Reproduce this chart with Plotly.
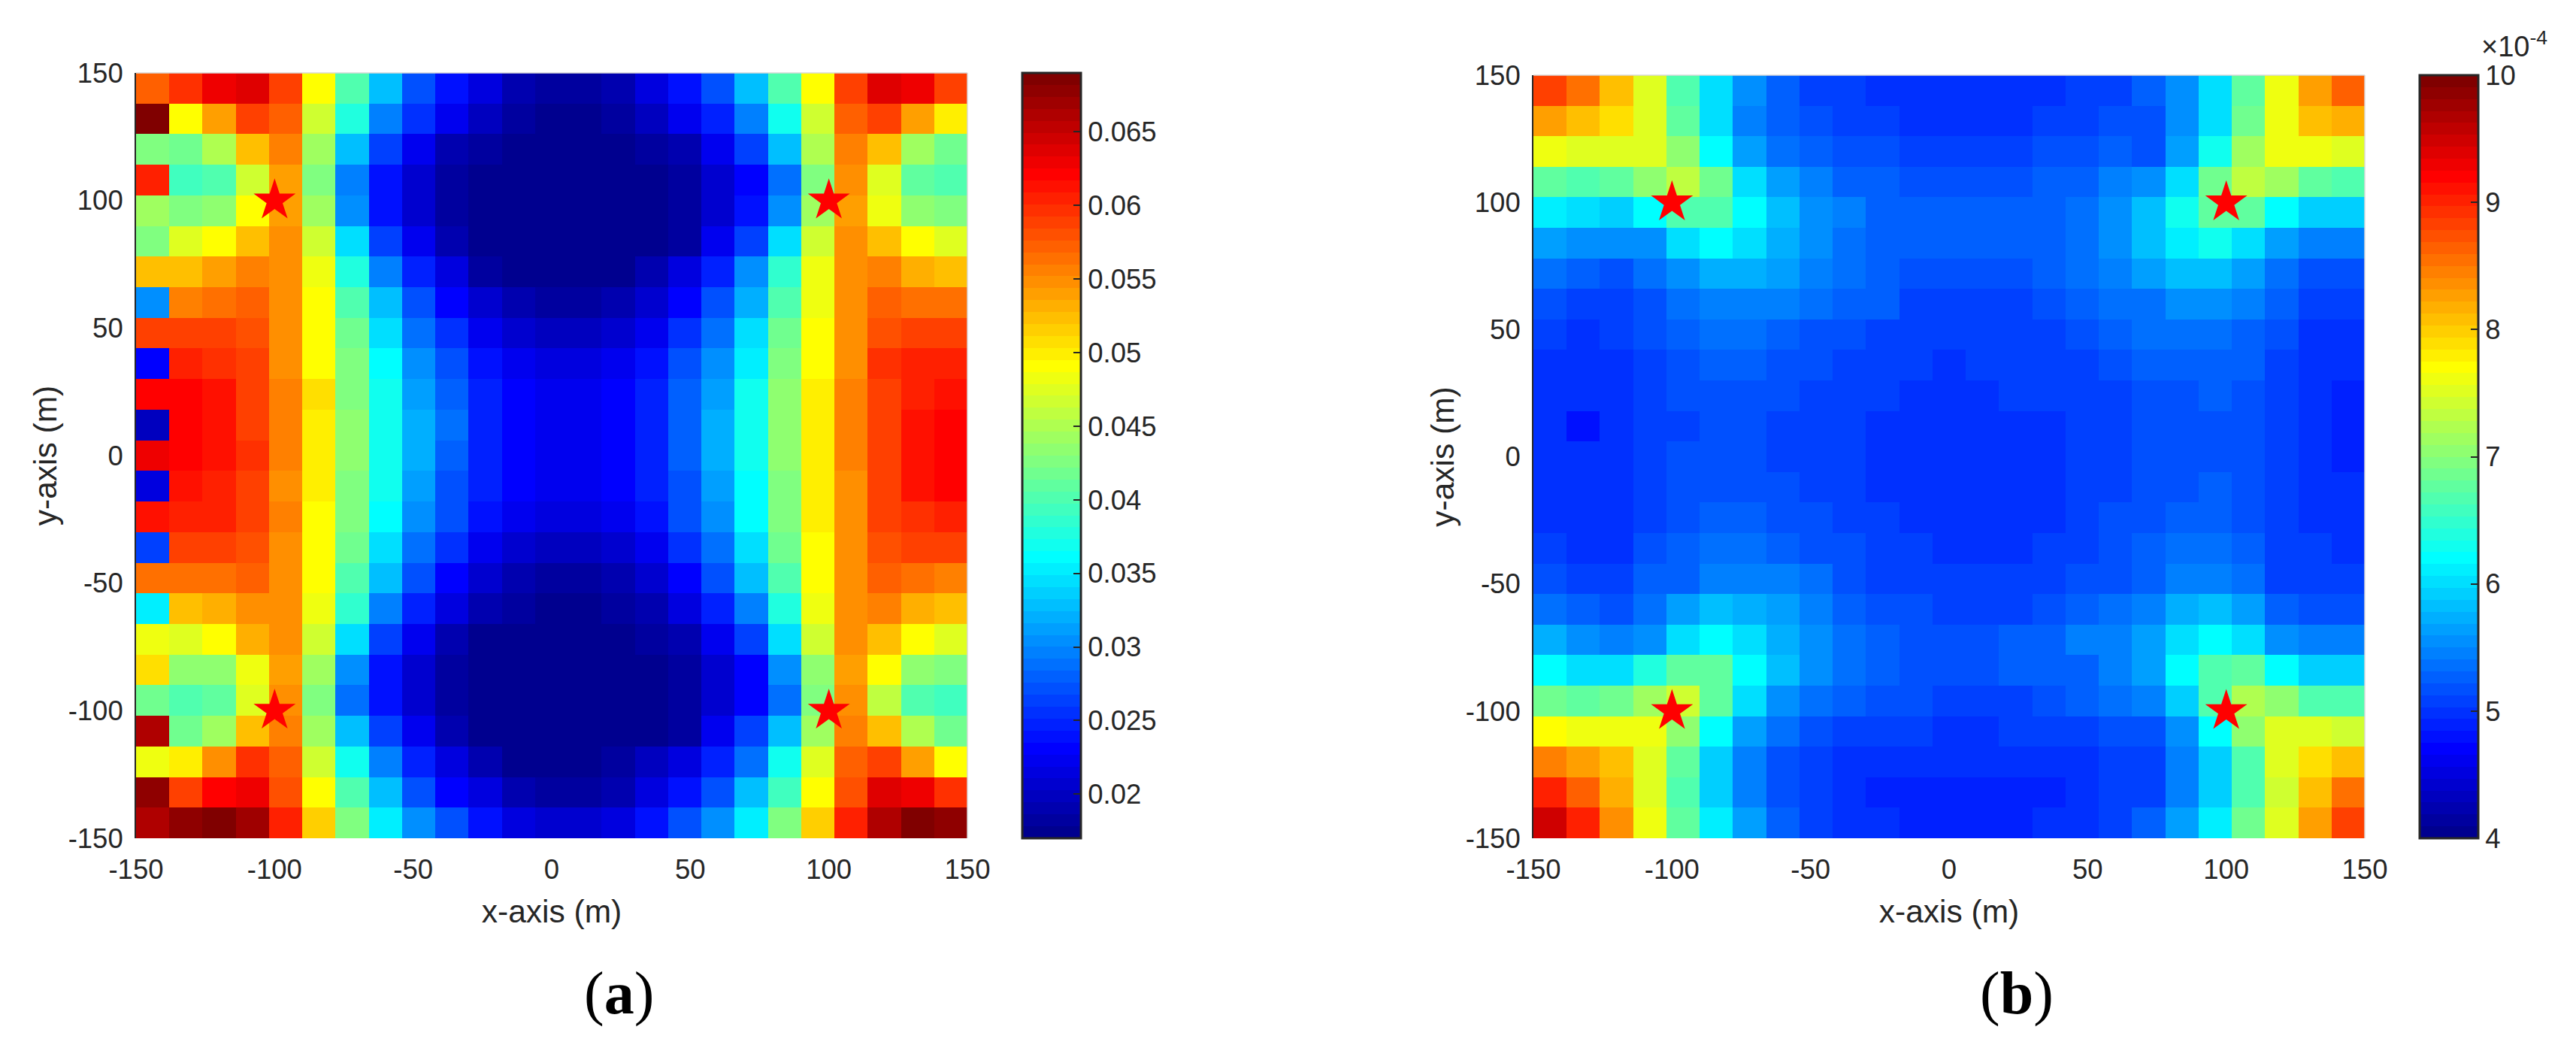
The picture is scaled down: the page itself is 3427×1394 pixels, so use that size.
import numpy as np
import plotly.graph_objects as go

W, H = 3427, 1394
PAGE = 8                       # the page's own margin around the figure
FW, FH = W - 2 * PAGE, H - 2 * PAGE

def fx(px):
    return (px - PAGE) / FW

def fy(py):
    return 1 - (py - PAGE) / FH

# Cell centres (m)
x_cells = [-144, -132, -120, -108, -96, -84, -72, -60, -48, -36, -24, -12, 0,
           12, 24, 36, 48, 60, 72, 84, 96, 108, 120, 132, 144]
y_cells = x_cells[::-1]

# Values, as position on the colour bar (0 bottom, 1 top)
read_a = [
 [.78,.83,.89,.905,.81,.625,.45,.31,.20,.14,.095,.05,.03,.03,.05,.095,.14,.20,.31,.45,.625,.81,.905,.89,.81],
 [1.0,.625,.72,.81,.78,.58,.40,.25,.17,.11,.06,.03,.016,.016,.03,.06,.11,.16,.25,.39,.58,.78,.81,.72,.64],
 [.50,.485,.55,.69,.75,.53,.31,.19,.11,.05,.03,0,0,0,.016,.03,.05,.11,.19,.31,.55,.75,.69,.53,.485],
 [.845,.44,.45,.58,.72,.50,.25,.14,.08,.03,.016,0,0,0,0,.016,.03,.08,.125,.235,.50,.735,.595,.47,.45],
 [.53,.50,.515,.625,.72,.53,.265,.14,.08,.03,.016,0,0,0,0,.016,.03,.08,.14,.265,.53,.72,.61,.515,.50],
 [.50,.595,.625,.69,.735,.58,.345,.19,.11,.05,.016,0,0,0,0,.016,.03,.11,.19,.345,.58,.735,.69,.625,.595],
 [.69,.69,.72,.75,.735,.61,.405,.25,.155,.095,.03,.016,.016,.01,.016,.05,.095,.155,.265,.42,.61,.735,.75,.70,.69],
 [.265,.75,.765,.78,.735,.625,.45,.31,.20,.125,.08,.05,.03,.03,.05,.08,.125,.20,.30,.45,.61,.735,.78,.765,.765],
 [.81,.81,.81,.80,.735,.625,.485,.345,.235,.17,.11,.08,.06,.06,.08,.11,.17,.235,.345,.485,.625,.735,.80,.81,.81],
 [.125,.845,.83,.81,.735,.625,.50,.375,.265,.20,.14,.11,.095,.095,.11,.14,.20,.265,.36,.50,.625,.735,.83,.845,.845],
 [.875,.875,.86,.81,.75,.655,.50,.39,.28,.22,.155,.125,.11,.11,.125,.155,.22,.28,.39,.515,.64,.75,.81,.845,.86],
 [.06,.875,.86,.81,.75,.64,.515,.39,.30,.235,.155,.125,.11,.11,.125,.155,.22,.30,.39,.515,.64,.75,.81,.86,.875],
 [.89,.875,.86,.83,.75,.64,.515,.39,.30,.22,.155,.125,.11,.11,.125,.155,.22,.30,.39,.515,.64,.75,.81,.86,.875],
 [.095,.86,.845,.81,.735,.64,.50,.39,.28,.20,.155,.125,.11,.11,.125,.155,.20,.28,.375,.50,.64,.735,.81,.86,.875],
 [.86,.845,.845,.81,.75,.625,.50,.375,.265,.20,.14,.11,.095,.095,.11,.14,.20,.265,.375,.50,.64,.735,.81,.83,.845],
 [.19,.81,.81,.80,.735,.625,.485,.345,.235,.17,.11,.08,.06,.06,.08,.11,.17,.235,.345,.485,.625,.735,.80,.81,.81],
 [.765,.765,.765,.78,.735,.625,.45,.31,.20,.125,.08,.05,.03,.03,.05,.08,.125,.20,.31,.45,.625,.735,.78,.765,.75],
 [.36,.69,.70,.735,.735,.61,.42,.25,.155,.095,.05,.03,.016,.016,.03,.05,.095,.155,.25,.405,.61,.735,.75,.70,.69],
 [.61,.595,.625,.70,.735,.58,.345,.19,.11,.05,.016,.016,0,0,.016,.03,.05,.11,.19,.345,.58,.735,.69,.625,.595],
 [.655,.515,.515,.61,.72,.53,.265,.14,.08,.03,.016,0,0,0,0,.016,.03,.08,.125,.265,.515,.72,.625,.515,.50],
 [.485,.45,.47,.595,.735,.50,.235,.14,.08,.03,.016,0,0,0,0,.016,.03,.08,.125,.235,.50,.735,.56,.45,.44],
 [.95,.485,.53,.69,.75,.53,.31,.19,.11,.05,0,0,0,0,0,0,.03,.11,.19,.31,.53,.75,.69,.55,.485],
 [.61,.64,.735,.83,.78,.58,.39,.25,.155,.095,.05,.016,.016,.016,.03,.06,.095,.155,.235,.39,.595,.78,.81,.72,.625],
 [.985,.81,.875,.89,.80,.625,.45,.31,.20,.125,.095,.05,.03,.03,.05,.095,.14,.20,.31,.44,.625,.80,.905,.89,.83],
 [.96,.985,1.0,.97,.845,.67,.50,.36,.265,.20,.14,.095,.08,.08,.095,.14,.20,.265,.36,.50,.67,.845,.95,1.0,.985],
]

read_b = [
 [.81,.765,.69,.595,.45,.345,.265,.22,.19,.19,.17,.17,.17,.17,.17,.17,.19,.19,.22,.265,.345,.47,.61,.72,.78],
 [.72,.69,.655,.595,.47,.345,.25,.22,.20,.19,.19,.17,.17,.17,.17,.19,.19,.20,.205,.265,.345,.485,.61,.69,.70],
 [.61,.595,.595,.595,.515,.375,.28,.235,.22,.20,.20,.19,.19,.19,.19,.20,.20,.22,.21,.28,.39,.53,.61,.61,.595],
 [.47,.45,.47,.515,.56,.485,.345,.28,.25,.22,.22,.205,.205,.205,.205,.22,.22,.25,.265,.345,.485,.56,.53,.47,.45],
 [.36,.345,.33,.375,.45,.45,.375,.31,.265,.25,.22,.22,.22,.22,.22,.22,.235,.265,.31,.39,.47,.47,.375,.33,.33],
 [.28,.265,.265,.265,.345,.375,.345,.30,.265,.235,.22,.22,.22,.22,.22,.22,.235,.265,.31,.36,.39,.345,.28,.25,.25],
 [.235,.22,.205,.235,.265,.30,.30,.28,.25,.235,.22,.205,.205,.205,.205,.22,.235,.25,.28,.31,.31,.28,.235,.205,.205],
 [.205,.19,.19,.205,.235,.25,.25,.25,.235,.22,.215,.19,.19,.19,.19,.205,.22,.235,.24,.265,.265,.25,.22,.19,.19],
 [.19,.17,.19,.205,.22,.235,.235,.22,.205,.205,.19,.19,.19,.19,.19,.19,.205,.22,.235,.235,.235,.22,.205,.17,.17],
 [.17,.17,.17,.19,.205,.22,.22,.205,.205,.19,.19,.19,.17,.19,.19,.19,.19,.205,.22,.22,.22,.22,.19,.17,.17],
 [.17,.17,.17,.19,.205,.205,.205,.205,.19,.19,.19,.17,.17,.17,.185,.19,.19,.19,.205,.205,.22,.205,.19,.17,.155],
 [.17,.14,.17,.19,.19,.205,.205,.19,.19,.19,.17,.17,.17,.17,.17,.17,.19,.19,.205,.205,.205,.205,.19,.17,.155],
 [.17,.17,.17,.19,.205,.205,.205,.19,.19,.19,.17,.17,.17,.17,.17,.17,.19,.19,.205,.205,.205,.205,.19,.17,.155],
 [.17,.17,.17,.19,.205,.205,.205,.205,.19,.19,.17,.17,.17,.17,.17,.17,.19,.19,.205,.205,.22,.205,.19,.17,.17],
 [.17,.17,.17,.19,.205,.22,.22,.205,.205,.19,.19,.17,.17,.17,.17,.17,.19,.205,.205,.22,.22,.205,.19,.17,.17],
 [.19,.17,.17,.205,.22,.235,.235,.22,.205,.205,.19,.19,.17,.17,.17,.19,.19,.205,.22,.235,.235,.22,.19,.19,.17],
 [.205,.19,.19,.22,.22,.25,.25,.25,.235,.205,.19,.19,.19,.19,.19,.19,.205,.205,.22,.25,.25,.235,.19,.19,.19],
 [.235,.22,.205,.235,.28,.31,.30,.28,.25,.22,.205,.205,.19,.19,.19,.205,.22,.235,.25,.30,.31,.28,.22,.205,.205],
 [.30,.265,.25,.265,.345,.375,.345,.30,.265,.235,.22,.205,.205,.205,.22,.22,.25,.25,.28,.345,.375,.345,.265,.25,.25],
 [.375,.345,.345,.40,.47,.47,.375,.31,.265,.235,.22,.205,.205,.205,.22,.22,.22,.25,.28,.375,.45,.47,.375,.33,.33],
 [.485,.47,.485,.53,.58,.47,.345,.265,.235,.22,.205,.205,.19,.19,.19,.205,.22,.235,.25,.33,.45,.55,.515,.45,.45],
 [.625,.61,.61,.61,.515,.375,.28,.235,.205,.19,.19,.19,.17,.17,.19,.19,.19,.205,.205,.265,.375,.515,.595,.595,.58],
 [.75,.72,.69,.595,.47,.33,.25,.205,.19,.17,.17,.17,.17,.17,.17,.17,.17,.19,.19,.25,.33,.45,.595,.655,.69],
 [.845,.78,.70,.595,.45,.33,.25,.205,.19,.17,.155,.155,.155,.155,.155,.155,.17,.19,.19,.25,.33,.45,.58,.69,.765],
 [.92,.845,.735,.61,.47,.36,.28,.22,.19,.17,.17,.155,.155,.155,.155,.17,.17,.19,.22,.28,.36,.485,.595,.72,.81],
]

# Colour bar limits and ticks
range_a = [0.017, 0.069]
range_b = [4.0, 10.0]          # in units of 1e-4
ticks_xy = [-150, -100, -50, 0, 50, 100, 150]
tick_text_xy = ["-150", "-100", "-50", "0", "50", "100", "150"]
ticks_a = [0.02, 0.025, 0.03, 0.035, 0.04, 0.045, 0.05, 0.055, 0.06, 0.065]
tick_text_a = ["0.02", "0.025", "0.03", "0.035", "0.04", "0.045", "0.05", "0.055", "0.06", "0.065"]
ticks_b = [4, 5, 6, 7, 8, 9, 10]
star_x = [-100, 100, -100, 100]
star_y = [100, 100, -100, -100]

STEPS = 64

def to_value(read, rng):
    # each reading names one of the 64 colour steps; take the middle of that step
    return rng[0] + (np.array(read) - 0.5 / STEPS) * (rng[1] - rng[0])

z_a = to_value(read_a, range_a)
z_b = to_value(read_b, range_b)

# MATLAB jet, 64 steps
def jet_scale(n=STEPS):
    out = []
    for i in range(n):
        t = (i + 1) / n
        c = [int(round(255 * min(max(1.5 - abs(4 * t - k), 0), 1))) for k in (3, 2, 1)]
        col = f"rgb({c[0]},{c[1]},{c[2]})"
        out += [[i / n, col], [(i + 1) / n, col]]
    return out

INK = "#262626"
EDGE = "#d9d9d9"
FONT = "Liberation Sans"
TICK = 36.5
TITLE = 42.5

fig = go.Figure()

def bar(x_left, top, bottom, **kw):
    return dict(
        x=fx(x_left), xanchor="left", xpad=0, thicknessmode="pixels", thickness=78,
        lenmode="fraction", len=(bottom - top) / FH,
        y=fy(bottom), yanchor="bottom", ypad=0,
        outlinecolor=INK, outlinewidth=3, ticks="inside", ticklen=11, tickwidth=2,
        tickcolor=INK, tickfont=dict(family=FONT, size=TICK, color=INK), **kw)

fig.add_trace(go.Heatmap(
    x=x_cells, y=y_cells, z=z_a, zmin=range_a[0], zmax=range_a[1], colorscale=jet_scale(),
    xaxis="x", yaxis="y", hoverinfo="skip",
    colorbar=bar(1360, 97, 1115, tickvals=ticks_a, ticktext=tick_text_a)))
fig.add_trace(go.Heatmap(
    x=x_cells, y=y_cells, z=z_b, zmin=range_b[0], zmax=range_b[1], colorscale=jet_scale(),
    xaxis="x2", yaxis="y2", hoverinfo="skip",
    colorbar=bar(3219, 100, 1115, tickvals=ticks_b, ticktext=[str(v) for v in ticks_b])))

star = dict(symbol="star", size=42, color="#ff0000", line=dict(width=0))
fig.add_trace(go.Scatter(x=star_x, y=star_y, mode="markers", marker=star, xaxis="x", yaxis="y",
                         showlegend=False, hoverinfo="skip"))
fig.add_trace(go.Scatter(x=star_x, y=star_y, mode="markers", marker=star, xaxis="x2", yaxis="y2",
                         showlegend=False, hoverinfo="skip"))

def axis(title, anchor, domain, standoff, line):
    return dict(
        domain=domain, range=[-150, 150], anchor=anchor, tickvals=ticks_xy, ticktext=tick_text_xy,
        automargin=False, ticks="outside", ticklen=8, tickcolor="rgba(0,0,0,0)",
        showgrid=False, zeroline=False, showline=True, linecolor=line, linewidth=2,
        tickfont=dict(family=FONT, size=TICK, color=INK),
        title=dict(text=title, font=dict(family=FONT, size=TITLE, color=INK), standoff=standoff))

def edges(xa, ya):
    line = dict(color=EDGE, width=1.5)
    return [
        dict(type="line", xref=f"{xa} domain", yref=f"{ya} domain", x0=0, x1=1, y0=1, y1=1, line=line),
        dict(type="line", xref=f"{xa} domain", yref=f"{ya} domain", x0=1, x1=1, y0=0, y1=1, line=line),
    ]

fig.update_layout(
    width=FW, height=FH, margin=dict(l=0, r=0, t=0, b=0, autoexpand=False), autosize=False,
    paper_bgcolor="white", plot_bgcolor="white", showlegend=False,
    xaxis=axis("x-axis (m)", "y", [fx(181), fx(1287)], 21, "rgba(0,0,0,0)"),
    yaxis=axis("y-axis (m)", "x", [fy(1115), fy(97)], 2, INK),
    xaxis2=axis("x-axis (m)", "y2", [fx(2040), fx(3146)], 21, "rgba(0,0,0,0)"),
    yaxis2=axis("y-axis (m)", "x2", [fy(1115), fy(100)], 2, INK),
    shapes=edges("x", "y") + edges("x2", "y2"),
    annotations=[
        dict(text="(<b>a</b>)", x=fx(823), y=fy(1321), xref="paper", yref="paper",
             showarrow=False, xanchor="center", yanchor="middle",
             font=dict(family="Liberation Serif", size=80, color="black")),
        dict(text="(<b>b</b>)", x=fx(2683), y=fy(1321), xref="paper", yref="paper",
             showarrow=False, xanchor="center", yanchor="middle",
             font=dict(family="Liberation Serif", size=80, color="black")),
        dict(text="×10<sup>-4</sup>", x=fx(3300), y=fy(84), xref="paper", yref="paper",
             showarrow=False, xanchor="left", yanchor="bottom", borderpad=0,
             font=dict(family=FONT, size=38, color=INK)),
    ],
)

fig.write_html("out.html")
